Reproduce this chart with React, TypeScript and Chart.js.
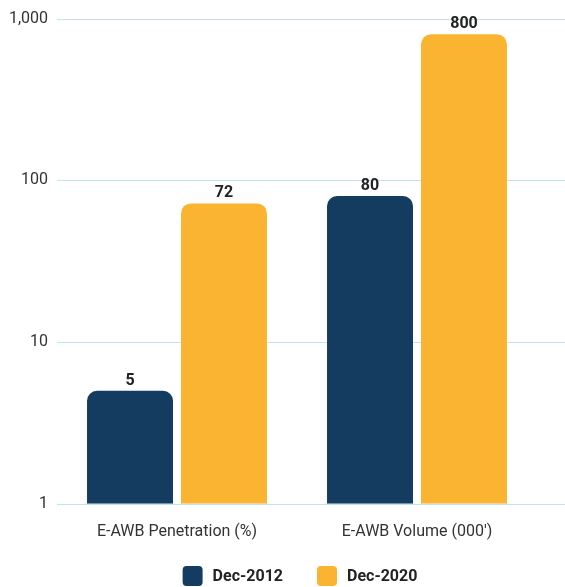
import React, { useEffect, useRef } from "react";
import { Chart, registerables } from "chart.js";

Chart.register(...registerables);

const categories = ["E-AWB Penetration (%)", "E-AWB Volume (000')"];
const dec2012 = [5, 80];
const dec2020 = [72, 800];
const seriesNames = ["Dec-2012", "Dec-2020"];
const yTicks = [1, 10, 100, 1000];

const NAVY = "#143C60";
const YELLOW = "#FBB431";
const GRID = "#BFE6EE";
const FONT = "Roboto, 'Noto Sans', sans-serif";

const gridPlugin = {
  id: "extendedGrid",
  beforeDatasetsDraw(chart: any) {
    const { ctx, chartArea, scales } = chart;
    const y = scales.y;
    ctx.save();
    ctx.strokeStyle = GRID;
    ctx.lineWidth = 1;
    yTicks.forEach((v) => {
      const py = Math.round(y.getPixelForValue(v)) + 0.5;
      ctx.beginPath();
      ctx.moveTo(chartArea.left, py);
      ctx.lineTo(chart.width, py);
      ctx.stroke();
    });
    ctx.restore();
  },
};

const labelPlugin = {
  id: "valueLabels",
  afterDatasetsDraw(chart: any) {
    const { ctx } = chart;
    ctx.save();
    ctx.font = `bold 16px ${FONT}`;
    ctx.fillStyle = "#222222";
    ctx.textAlign = "center";
    ctx.textBaseline = "alphabetic";
    chart.data.datasets.forEach((ds: any, di: number) => {
      const meta = chart.getDatasetMeta(di);
      meta.data.forEach((bar: any, i: number) => {
        ctx.fillText(String(ds.data[i]), bar.x, bar.y - 6);
      });
    });
    ctx.restore();
  },
};

const legendPlugin = {
  id: "customLegend",
  afterDraw(chart: any) {
    const { ctx, chartArea } = chart;
    ctx.save();
    ctx.font = `bold 16px ${FONT}`;
    const colors = [NAVY, YELLOW];
    const box = 20;
    const gapText = 10;
    const gapItem = 34;
    const widths = seriesNames.map((n) => box + gapText + ctx.measureText(n).width);
    const total = widths.reduce((a, b) => a + b, 0) + gapItem * (widths.length - 1);
    let x = (chartArea.left + chartArea.right) / 2 - total / 2 + 3;
    const cy = 576;
    seriesNames.forEach((n, i) => {
      ctx.fillStyle = colors[i];
      ctx.beginPath();
      (ctx as any).roundRect(x, cy - box / 2, box, box, 4);
      ctx.fill();
      ctx.fillStyle = "#222222";
      ctx.textAlign = "left";
      ctx.textBaseline = "middle";
      ctx.fillText(n, x + box + gapText, cy + 1);
      x += widths[i] + gapItem;
    });
    ctx.restore();
  },
};

export default function App() {
  const ref = useRef<HTMLCanvasElement | null>(null);
  useEffect(() => {
    if (!ref.current) return;
    const radius = { topLeft: 10, topRight: 10, bottomLeft: 0, bottomRight: 0 };
    const chart = new Chart(ref.current, {
      type: "bar",
      data: {
        labels: categories,
        datasets: [
          {
            label: seriesNames[0],
            data: dec2012,
            backgroundColor: NAVY,
            borderRadius: radius,
            borderSkipped: false,
            barPercentage: 0.915,
            categoryPercentage: 0.783,
          },
          {
            label: seriesNames[1],
            data: dec2020,
            backgroundColor: YELLOW,
            borderRadius: radius,
            borderSkipped: false,
            barPercentage: 0.915,
            categoryPercentage: 0.783,
          },
        ],
      },
      options: {
        animation: false,
        responsive: false,
        maintainAspectRatio: false,
        layout: { padding: { top: 10, right: 28, left: 0, bottom: 26 } },
        scales: {
          x: {
            grid: { display: false, drawTicks: false },
            border: { display: false },
            ticks: { color: "#333333", font: { family: FONT, size: 16 }, padding: 19 },
          },
          y: {
            type: "logarithmic",
            min: 1,
            max: 1000,
            afterBuildTicks(axis: any) {
              axis.ticks = yTicks.map((v) => ({ value: v }));
            },
            afterFit(axis: any) {
              axis.width = 57;
            },
            grid: { display: false, drawTicks: false },
            border: { display: false },
            ticks: {
              color: "#333333",
              font: { family: FONT, size: 16 },
              padding: 9,
              callback: (v: any) => Number(v).toLocaleString("en-US"),
            },
          },
        },
        plugins: {
          legend: { display: false },
          tooltip: { enabled: false },
        },
      },
      plugins: [gridPlugin, labelPlugin, legendPlugin],
    });
    return () => chart.destroy();
  }, []);
  return (
    <div style={{ position: "fixed", left: 0, top: 0, width: 565, height: 587, background: "#fff" }}>
      <canvas ref={ref} width={565} height={587} style={{ display: "block" }} />
    </div>
  );
}
